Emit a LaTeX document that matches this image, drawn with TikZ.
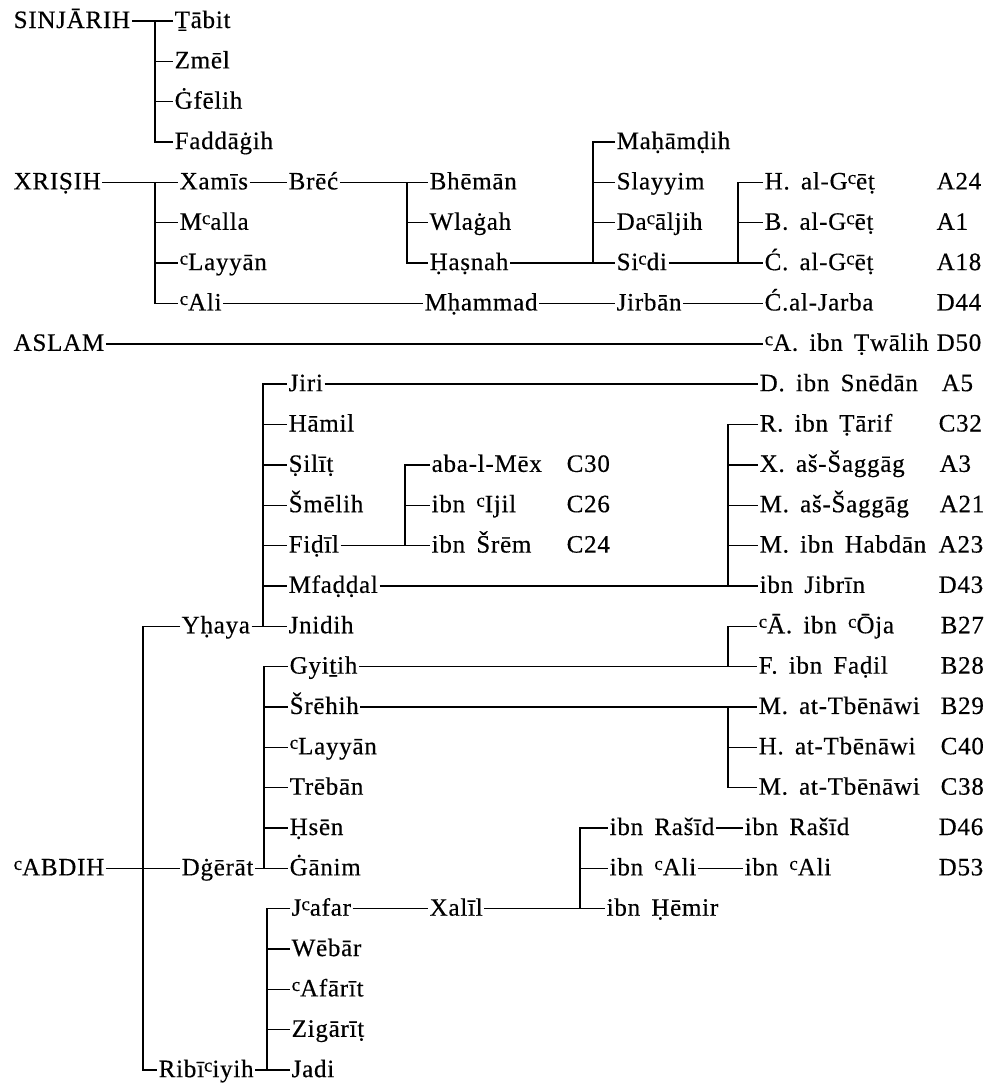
\documentclass[tikz,border=0pt]{standalone}
\usepackage{fontspec}
\setmainfont{Liberation Serif}[LetterSpace=3,WordSpace=1.6,FakeBold=0.4]
\newcommand\ay{\raisebox{5.5pt}{\fontsize{19}{19}\selectfont c}}
\tikzset{
  nm/.style={anchor=west,inner xsep=1.5pt,inner ysep=0pt,text height=18pt,text depth=4pt,font=\fontsize{25}{28}\selectfont},
  ln/.style={line width=1.4pt},
}
\begin{document}
\begin{tikzpicture}[x=1pt,y=-1pt]
\path[use as bounding box] (0,0) rectangle (995,1084);
% row y values
\def\ra{21}\def\rb{61.35}\def\rc{101.7}\def\rd{142.05}\def\re{182.4}
\def\rf{222.75}\def\rg{263.1}\def\rh{303.45}\def\ri{343.8}\def\rj{384.15}
\def\rk{424.5}\def\rl{464.85}\def\rm{505.2}\def\rn{545.55}\def\ro{585.9}
\def\rp{626.25}\def\rq{666.6}\def\rr{706.95}\def\rs{747.3}\def\rt{787.65}
\def\ru{828}\def\rv{868.35}\def\rw{908.7}\def\rx{949.05}\def\ry{989.4}
\def\rz{1029.75}\def\rZ{1070.1}
% bar x coordinates
\coordinate (bS) at (155,0);
\coordinate (bX) at (155,0);
\coordinate (bB) at (407,0);
\coordinate (bH) at (593,0);
\coordinate (bC) at (738,0);
\coordinate (bA) at (143,0);
\coordinate (bY) at (263,0);
\coordinate (bF) at (405,0);
\coordinate (bM) at (728,0);
\coordinate (bD) at (264,0);
\coordinate (bG) at (728,0);
\coordinate (bR) at (267,0);
\coordinate (bL) at (580,0);
% SINJARIH
\node[nm] (sinj) at (12,\ra) {SINJĀRIH};
\node[nm] (tabit) at (173,\ra) {Ṯābit};
\node[nm] (zmel) at (173,\rb) {Zmēl};
\node[nm] (gfel) at (173,\rc) {Ġfēlih};
\node[nm] (fadd) at (173,\rd) {Faddāġih};
% XRISIH
\node[nm] (xris) at (12,\re) {XRIṢIH};
\node[nm] (xamis) at (178,\re) {Xamīs};
\node[nm] (malla) at (178,\rf) {M\ay alla};
\node[nm] (layy) at (178,\rg) {\ay Layyān};
\node[nm] (ali) at (178,\rh) {\ay Ali};
\node[nm] (brec) at (287,\re) {Brēć};
\node[nm] (bhem) at (428,\re) {Bhēmān};
\node[nm] (wlag) at (428,\rf) {Wlaġah};
\node[nm] (hasn) at (428,\rg) {Ḥaṣnah};
\node[nm] (maha) at (615,\rd) {Maḥāmḍih};
\node[nm] (slay) at (615,\re) {Slayyim};
\node[nm] (daal) at (615,\rf) {Da\ay āljih};
\node[nm] (sidi) at (615,\rg) {Si\ay di};
\node[nm] (hgc) at (763,\re) {H. al-G\ay ēṭ};
\node[nm] (bgc) at (763,\rf) {B. al-G\ay ēṭ};
\node[nm] (cgc) at (763,\rg) {Ć. al-G\ay ēṭ};
\node[nm] (mham) at (423,\rh) {Mḥammad};
\node[nm] (jirban) at (615,\rh) {Jirbān};
\node[nm] (jarba) at (763,\rh) {Ć.al-Jarba};
% ASLAM
\node[nm] (aslam) at (12,\ri) {ASLAM};
\node[nm] (twal) at (763,\ri) {\ay A. ibn Ṭwālih};
% ABDIH
\node[nm] (abdih) at (12,\rv) {\ay ABDIH};
\node[nm] (yhaya) at (180,\rp) {Yḥaya};
\node[nm] (dger) at (180,\rv) {Dġērāt};
\node[nm] (ribi) at (157,\rZ) {Ribī\ay iyih};
\node[nm] (jiri) at (287,\rj) {Jiri};
\node[nm] (hamil) at (287,\rk) {Hāmil};
\node[nm] (silit) at (287,\rl) {Ṣilīṭ};
\node[nm] (smel) at (287,\rm) {Šmēlih};
\node[nm] (fidil) at (287,\rn) {Fiḍīl};
\node[nm] (mfad) at (287,\ro) {Mfaḍḍal};
\node[nm] (jnid) at (287,\rp) {Jnidih};
\node[nm] (snedan) at (758,\rj) {D. ibn Snēdān};
\node[nm] (aba) at (430,\rl) {aba-l-Mēx};
\node[nm] (ijil) at (430,\rm) {ibn \ay Ijil};
\node[nm] (srem) at (430,\rn) {ibn Šrēm};
\node[nm] (tarif) at (758,\rk) {R. ibn Ṭārif};
\node[nm] (xsag) at (758,\rl) {X. aš-Šaggāg};
\node[nm] (msag) at (758,\rm) {M. aš-Šaggāg};
\node[nm] (habd) at (758,\rn) {M. ibn Habdān};
\node[nm] (jibr) at (758,\ro) {ibn Jibrīn};
\node[nm] (gyit) at (288,\rq) {Gyiṯih};
\node[nm] (sreh) at (288,\rr) {Šrēhih};
\node[nm] (layyb) at (288,\rs) {\ay Layyān};
\node[nm] (treb) at (288,\rt) {Trēbān};
\node[nm] (hsen) at (288,\ru) {Ḥsēn};
\node[nm] (ganim) at (288,\rv) {Ġānim};
\node[nm] (oja) at (757,\rp) {\ay Ā. ibn \ay Ōja};
\node[nm] (fadil) at (757,\rq) {F. ibn Faḍil};
\node[nm] (tbea) at (757,\rr) {M. at-Tbēnāwi};
\node[nm] (tbeb) at (757,\rs) {H. at-Tbēnāwi};
\node[nm] (tbec) at (757,\rt) {M. at-Tbēnāwi};
\node[nm] (jafar) at (290,\rw) {J\ay afar};
\node[nm] (webar) at (290,\rx) {Wēbār};
\node[nm] (afarit) at (290,\ry) {\ay Afārīt};
\node[nm] (zigar) at (290,\rz) {Zigārīṭ};
\node[nm] (jadi) at (290,\rZ) {Jadi};
\node[nm] (xalil) at (428,\rw) {Xalīl};
\node[nm] (rasid) at (608,\ru) {ibn Rašīd};
\node[nm] (ibnali) at (608,\rv) {ibn \ay Ali};
\node[nm] (hemir) at (605,\rw) {ibn Ḥēmir};
\node[nm] (rasidb) at (743,\ru) {ibn Rašīd};
\node[nm] (ibnalib) at (743,\rv) {ibn \ay Ali};
% codes
\node[nm] (kA24) at (935,\re) {A24};
\node[nm] (kA1) at (935,\rf) {A1};
\node[nm] (kA18) at (935,\rg) {A18};
\node[nm] (kD44) at (935,\rh) {D44};
\node[nm] (kD50) at (935,\ri) {D50};
\node[nm] (kA5) at (940,\rj) {A5};
\node[nm] (kC32) at (937,\rk) {C32};
\node[nm] (kA3) at (938,\rl) {A3};
\node[nm] (kA21) at (938,\rm) {A21};
\node[nm] (kA23) at (937,\rn) {A23};
\node[nm] (kD43) at (937,\ro) {D43};
\node[nm] (kB27) at (939,\rp) {B27};
\node[nm] (kB28) at (939,\rq) {B28};
\node[nm] (kB29) at (939,\rr) {B29};
\node[nm] (kC40) at (939,\rs) {C40};
\node[nm] (kC38) at (939,\rt) {C38};
\node[nm] (kD46) at (937,\ru) {D46};
\node[nm] (kD53) at (937,\rv) {D53};
\node[nm] (kC30) at (565,\rl) {C30};
\node[nm] (kC26) at (565,\rm) {C26};
\node[nm] (kC24) at (565,\rn) {C24};
% connectors
\begin{scope}[ln]
\draw (sinj.east) -- (tabit.west);
\draw (bS |- tabit.west) |- (fadd.west);
\foreach \n in {zmel,gfel} \draw (bS |- \n.west) -- (\n.west);
\draw (xris.east) -- (xamis.west);
\draw (bX |- xamis.west) |- (ali.west);
\foreach \n in {malla,layy} \draw (bX |- \n.west) -- (\n.west);
\draw (xamis.east) -- (brec.west);
\draw (brec.east) -- (bhem.west);
\draw (bB |- bhem.west) |- (hasn.west);
\draw (bB |- wlag.west) -- (wlag.west);
\draw (hasn.east) -- (sidi.west);
\draw (maha.west) -| (bH |- sidi.west);
\foreach \n in {slay,daal} \draw (bH |- \n.west) -- (\n.west);
\draw (sidi.east) -- (cgc.west);
\draw (hgc.west) -| (bC |- cgc.west);
\draw (bC |- bgc.west) -- (bgc.west);
\draw (ali.east) -- (mham.west);
\draw (mham.east) -- (jirban.west);
\draw (jirban.east) -- (jarba.west);
\draw (aslam.east) -- (twal.west);
\draw (abdih.east) -- (dger.west);
\draw (yhaya.west) -| (bA |- ribi.west) -- (ribi.west);
\draw (yhaya.east) -- (jnid.west);
\draw (jiri.west) -| (bY |- jnid.west);
\foreach \n in {hamil,silit,smel,fidil,mfad} \draw (bY |- \n.west) -- (\n.west);
\draw (jiri.east) -- (snedan.west);
\draw (fidil.east) -- (srem.west);
\draw (aba.west) -| (bF |- srem.west);
\draw (bF |- ijil.west) -- (ijil.west);
\draw (mfad.east) -- (jibr.west);
\draw (tarif.west) -| (bM |- jibr.west);
\foreach \n in {xsag,msag,habd} \draw (bM |- \n.west) -- (\n.west);
\draw (dger.east) -- (ganim.west);
\draw (gyit.west) -| (bD |- ganim.west);
\foreach \n in {sreh,layyb,treb,hsen} \draw (bD |- \n.west) -- (\n.west);
\draw (gyit.east) -- (fadil.west);
\draw (oja.west) -| (bG |- fadil.west);
\draw (sreh.east) -- (tbea.west);
\draw (tbec.west) -| (bG |- tbea.west);
\draw (bG |- tbeb.west) -- (tbeb.west);
\draw (ribi.east) -- (jadi.west);
\draw (jafar.west) -| (bR |- jadi.west);
\foreach \n in {webar,afarit,zigar} \draw (bR |- \n.west) -- (\n.west);
\draw (jafar.east) -- (xalil.west);
\draw (xalil.east) -- (hemir.west);
\draw (rasid.west) -| (bL |- hemir.west);
\draw (bL |- ibnali.west) -- (ibnali.west);
\draw (rasid.east) -- (rasidb.west);
\draw (ibnali.east) -- (ibnalib.west);
\end{scope}
\end{tikzpicture}
\end{document}
